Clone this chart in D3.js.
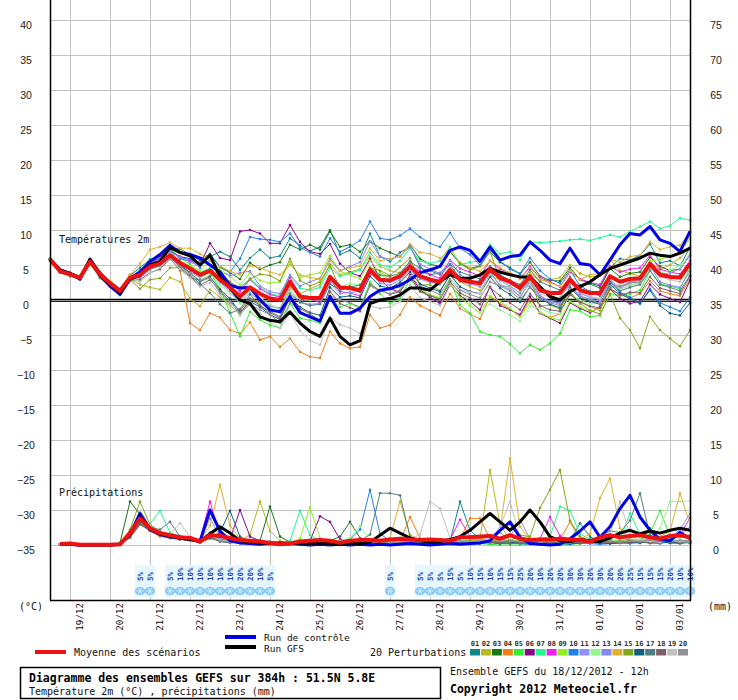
<!DOCTYPE html>
<html><head><meta charset="utf-8">
<script src="https://cdn.jsdelivr.net/npm/d3@7"></script>
<style>body{margin:0;background:#fff}svg{display:block}</style>
</head><body><svg id="c" width="738" height="700"></svg>
<script>
// ---------- DATA ----------
const dates = ["19/12","20/12","21/12","22/12","23/12","24/12","25/12","26/12","27/12","28/12","29/12","30/12","31/12","01/01","02/01","03/01"];
const dateIdx = [2,6,10,14,18,22,26,30,34,38,42,46,50,54,58,62];
const tickT = [40,35,30,25,20,15,10,5,0,-5,-10,-15,-20,-25,-30,-35];
const tickP = [75,70,65,60,55,50,45,40,35,30,25,20,15,10,5,0];
const pertNames = ["01","02","03","04","05","06","07","08","09","10","11","12","13","14","15","16","17","18","19","20"];
const pertColors = ["#108888","#b8b820","#187818","#f08018","#30f030","#880888","#20f890","#f020f0","#90f020","#2080f0","#9090f8","#90f890","#8888f0","#e0b030","#80a818","#106080","#508080","#806068","#c0c0c0","#909090"];

// Temperature 2m (°C), 65 steps of 6h from 18/12 12h
const tMean = [5.8,4.1,3.7,3.2,5.5,3.7,2.4,1.3,3.2,3.6,4.8,5.2,6.4,5.3,4.5,3.6,4.2,2.9,1.8,0.5,1.8,0.9,0.2,0.0,2.6,0.5,0.3,0.3,3.3,1.8,1.7,1.4,4.3,2.9,2.8,3.4,4.8,3.4,2.9,2.6,4.3,2.9,2.6,2.4,4.4,3.2,2.6,1.7,3.4,1.4,1.0,1.0,2.9,1.4,1.0,1.0,3.4,2.6,3.0,3.1,5.2,3.6,3.3,3.2,5.2];
const tCtrl = [5.8,4.3,3.8,3.0,5.8,3.5,2.0,0.8,3.0,4.0,5.5,6.5,7.8,6.8,6.5,6.0,5.0,4.0,2.1,1.7,1.8,0.0,-1.4,-1.7,0.5,-1.8,-2.4,-3.0,0.5,-1.9,-1.9,-1.2,0.5,1.4,1.6,2.1,2.9,3.9,4.3,4.8,7.1,7.6,7.1,5.5,7.6,5.7,6.2,6.4,8.3,7.1,5.7,5.2,7.4,5.2,5.0,3.6,5.7,7.9,9.5,9.3,10.5,8.6,8.1,6.9,9.8];
const tGfs = [5.8,4.3,3.8,3.2,5.8,3.8,2.3,1.0,3.0,3.5,5.0,5.5,7.5,6.8,6.3,5.0,6.4,3.3,1.7,0.0,-0.5,-2.4,-2.9,-3.1,-1.7,-3.3,-4.5,-5.2,-2.6,-5.2,-6.4,-5.8,-0.5,0.0,0.2,0.7,1.7,1.7,1.4,2.6,3.6,3.1,3.1,3.6,4.5,4.0,3.6,3.3,3.3,1.9,0.5,0.0,1.2,1.9,2.6,3.6,4.5,5.0,5.5,6.0,6.7,6.4,6.2,6.7,7.4];
const tP01 = [5.9,4.2,3.8,3.3,5.6,4.0,2.7,1.6,3.5,4.6,5.8,6.2,7.4,7.3,6.5,5.6,6.2,6.9,6.2,4.3,6.0,7.2,6.0,6.3,8.8,7.8,7.0,7.6,10.0,6.5,7.1,6.0,9.5,6.2,5.5,6.8,7.6,4.8,3.6,3.9,5.0,3.2,2.2,2.8,4.1,2.0,1.9,0.4,2.7,0.6,-0.4,0.3,2.2,2.1,2.3,1.7,4.6,5.9,5.7,6.4,8.0,5.3,5.6,4.9,7.5];
const tP02 = [5.7,4.0,3.5,2.9,5.3,3.4,2.1,0.9,3.0,2.2,1.8,1.5,3.2,2.6,0.2,-0.9,1.5,0.4,-0.8,-2.0,0.2,-0.4,-0.9,-1.2,1.8,0.9,1.6,2.2,5.1,3.6,4.0,4.4,6.2,4.8,4.2,3.9,5.5,3.6,2.8,2.2,3.9,2.6,1.9,1.4,3.4,2.9,2.6,2.0,3.9,2.7,2.9,3.2,5.0,3.8,3.3,3.5,5.8,4.2,3.8,3.4,5.4,4.4,5.0,6.0,7.6];
const tP03 = [5.9,4.3,3.8,3.4,5.7,3.9,2.6,1.5,3.4,3.8,5.2,6.0,7.7,6.8,6.4,5.9,6.5,4.7,3.9,3.0,5.3,4.4,5.0,5.4,7.9,7.2,7.9,7.2,9.8,7.6,7.9,6.9,8.4,7.4,6.8,6.2,7.9,5.9,5.1,4.8,6.9,5.2,4.5,4.9,6.9,5.4,4.6,3.7,5.4,3.4,2.8,2.7,4.6,2.9,2.4,2.0,4.5,3.3,3.8,4.0,6.1,4.8,4.2,4.4,6.4];
const tP04 = [5.8,4.3,3.9,3.4,5.9,3.9,2.6,1.5,3.6,3.3,4.5,5.6,7.8,4.2,-3.3,-4.3,-1.9,-2.5,-4.3,-4.8,-3.2,-5.7,-5.2,-6.7,-5.5,-7.4,-8.1,-8.3,-4.5,-6.2,-6.9,-6.7,-2.1,-4.0,-3.6,-2.1,0.4,-0.8,-1.5,-2.2,0.9,-1.2,-2.0,-2.7,0.5,-0.5,-1.3,-2.4,0.2,-1.8,-2.5,-2.0,0.9,-0.2,-0.9,-1.5,1.5,0.8,0.3,0.9,2.7,1.3,0.9,0.6,2.9];
const tP05 = [5.8,4.0,3.5,2.9,5.4,3.5,2.1,1.0,3.4,3.9,5.7,6.4,7.5,6.0,5.1,3.2,3.9,1.6,-1.8,-5.2,-1.7,-2.8,-3.6,-4.0,-0.5,-2.6,-2.9,-3.3,0.2,-1.0,-0.5,-1.2,2.6,0.9,-0.5,0.2,3.0,1.4,0.6,0.3,2.8,-0.7,-1.9,-4.5,-5.0,-5.2,-6.3,-7.6,-6.4,-7.1,-6.2,-4.8,-1.4,-1.6,-2.4,-2.2,0.9,0.6,0.9,1.4,4.2,2.3,2.0,1.6,4.6];
const tP06 = [5.9,4.4,3.9,3.3,5.7,3.6,2.2,1.1,3.3,4.0,5.6,6.3,7.0,6.2,5.9,5.0,8.1,6.0,5.7,9.8,10.0,9.5,8.1,8.1,10.7,8.3,6.9,6.6,8.0,5.2,3.9,3.4,5.9,3.0,1.6,1.1,3.6,1.5,0.4,-0.5,2.2,0.6,-0.2,-1.4,1.9,-0.8,-1.4,-2.1,0.5,-1.9,-2.6,-3.3,-0.4,-1.2,-1.8,-1.0,1.6,0.2,-0.5,-0.2,2.2,0.8,0.2,-0.3,2.8];
const tP07 = [5.8,4.2,3.7,3.3,5.6,3.8,2.5,1.4,3.1,3.4,4.6,5.4,6.8,5.6,4.8,3.9,4.6,3.6,2.4,1.3,3.1,1.8,0.9,0.6,3.4,1.7,1.4,1.8,4.6,3.4,3.8,4.3,6.8,5.0,4.7,5.6,7.4,5.6,5.2,5.6,7.6,5.0,5.4,5.6,7.9,6.6,6.9,5.7,8.3,8.2,8.3,8.4,8.6,8.7,8.5,8.9,9.3,9.0,9.8,10.5,11.2,10.2,10.6,11.7,11.4];
const tP08 = [5.8,4.2,3.8,3.2,5.5,3.8,2.4,1.4,3.3,3.9,5.2,5.9,7.2,5.9,5.6,5.2,6.4,3.8,2.6,1.2,2.9,1.6,0.8,0.4,3.2,0.7,0.2,-0.4,2.8,1.2,1.0,0.6,3.8,2.9,2.6,3.3,5.1,4.1,3.6,3.1,5.7,4.5,4.0,3.4,5.6,4.4,3.9,3.0,4.8,3.2,2.6,1.9,4.0,3.0,2.5,2.2,4.8,4.0,4.4,4.6,6.4,4.4,4.0,3.7,5.6];
const tP09 = [5.9,4.3,3.9,3.4,5.7,3.8,2.5,1.4,3.5,3.6,5.0,5.5,6.6,5.5,4.9,4.2,5.6,4.4,3.4,2.2,3.9,2.8,2.4,2.6,5.4,3.2,3.6,3.9,6.3,4.1,3.6,3.0,5.6,4.0,3.1,1.8,2.9,1.6,0.8,0.3,2.4,0.4,-0.8,-1.9,0.6,-0.2,-1.2,-2.4,-0.4,-1.8,-2.5,-2.9,-0.2,-1.0,-1.6,-1.2,1.8,1.8,2.4,3.0,5.6,5.8,6.3,6.9,8.8];
const tP10 = [5.8,4.1,3.7,3.1,5.4,3.6,2.2,1.2,3.3,4.2,5.5,6.0,7.2,6.0,5.8,4.6,6.6,4.8,4.0,5.9,9.0,8.7,8.6,8.3,9.5,7.5,6.8,6.2,8.8,6.9,7.6,8.5,11.2,8.8,8.6,9.2,10.2,9.0,8.1,7.6,9.6,7.4,6.5,5.0,7.2,5.6,4.4,3.8,6.0,4.2,3.0,2.4,4.3,2.0,1.2,0.6,2.8,1.1,0.4,-0.5,1.6,-0.4,-1.0,-1.6,0.4];
const tP11 = [5.7,4.0,3.6,3.1,5.4,3.5,2.2,1.1,3.1,3.2,4.4,4.9,6.0,4.8,4.0,3.2,4.0,2.5,1.2,-0.3,1.0,-0.1,-0.8,-1.2,1.4,-0.4,-0.6,-0.5,2.4,0.9,1.1,1.2,3.9,2.4,2.1,2.9,4.2,3.0,2.5,2.3,4.6,2.7,2.3,1.9,3.8,2.2,1.5,0.6,2.4,0.4,-0.2,-0.4,1.8,0.6,0.1,-0.1,2.5,1.8,2.4,2.9,5.0,3.6,3.9,4.4,6.3];
const tP12 = [5.8,4.1,3.6,3.1,5.5,3.6,2.3,1.3,3.3,3.7,4.8,5.3,6.6,5.2,4.3,3.4,3.8,2.2,1.0,-0.5,1.4,0.3,-0.6,-1.4,1.2,0.2,0.0,0.3,3.0,1.9,2.3,2.2,4.4,3.5,3.0,3.3,4.8,3.6,3.2,2.4,4.2,1.2,-0.4,-1.8,-0.6,-1.4,-2.2,-3.0,-0.9,-1.2,-1.8,-2.0,0.7,0.0,-0.6,-0.4,2.1,1.5,2.0,2.4,4.4,3.8,4.3,4.9,6.7];
const tP13 = [5.8,4.2,3.7,3.2,5.5,3.7,2.4,1.2,3.2,3.7,4.9,5.5,6.9,6.1,5.4,4.9,5.7,4.0,3.5,3.9,4.1,2.0,1.2,0.9,3.6,2.0,2.6,3.1,5.9,4.2,4.8,5.4,8.4,6.2,5.8,6.3,7.6,5.1,4.4,3.8,5.6,3.6,2.9,2.2,4.2,2.8,2.0,1.0,2.8,0.6,-0.2,-0.6,1.6,0.9,0.4,0.0,2.8,1.8,2.6,2.4,4.9,2.6,2.1,1.8,4.1];
const tP14 = [5.9,4.3,3.8,3.3,5.7,3.9,2.7,1.6,3.6,5.2,7.2,7.6,8.2,7.4,7.4,6.6,5.8,4.8,4.1,3.6,4.9,4.6,4.0,3.6,5.0,3.6,3.2,3.0,5.6,4.2,4.6,4.9,7.4,5.6,5.9,6.2,8.0,6.8,6.6,6.0,7.2,5.4,4.6,4.1,5.6,4.6,3.8,3.0,4.6,3.0,2.4,2.0,4.2,2.9,3.6,3.8,5.8,5.4,6.2,6.4,8.3,7.2,7.6,7.8,9.7];
const tP15 = [5.7,4.0,3.6,3.0,5.2,3.1,2.0,0.7,2.9,1.6,2.9,3.1,4.6,4.6,3.2,2.8,3.5,4.1,2.5,1.8,3.0,3.7,3.5,2.7,5.9,2.8,2.0,2.6,5.0,1.5,2.0,1.1,4.6,4.2,3.5,4.7,6.0,2.1,2.2,1.3,3.6,5.2,4.3,4.8,6.9,3.0,2.9,1.4,3.1,-0.9,-0.7,-1.3,1.2,-0.5,-1.5,-2.0,0.8,-2.6,-4.3,-6.9,-2.4,-4.3,-5.5,-6.6,-4.3];
const tP16 = [5.8,4.1,3.6,3.2,5.4,3.4,2.1,0.9,3.0,3.5,4.6,5.0,6.2,5.0,3.9,2.6,3.3,1.5,0.2,-1.8,-0.2,-1.0,-2.1,-2.8,0.4,-1.0,-1.8,-2.2,1.8,0.4,0.6,0.3,3.4,2.0,1.7,2.5,4.0,2.3,1.7,1.2,3.6,1.9,1.2,0.9,3.3,1.7,0.8,-0.3,1.9,0.2,-0.6,-1.1,1.7,0.3,-0.2,-0.6,2.3,0.9,0.2,-0.5,1.4,-0.8,-1.9,-2.2,-0.4];
const tP17 = [5.8,4.1,3.7,3.2,5.6,3.6,2.3,1.2,3.2,3.4,4.4,4.9,6.3,4.6,3.6,2.3,1.0,-0.6,-1.9,-1.3,0.8,-0.8,-1.6,-2.4,0.9,-0.3,-0.8,-0.6,2.3,1.4,1.9,2.1,4.6,3.6,3.4,3.8,5.5,4.5,4.2,3.6,5.1,4.0,3.5,3.0,4.8,3.6,2.8,2.2,4.3,2.6,2.0,1.4,3.3,1.6,1.1,0.6,2.6,1.3,1.8,2.2,4.2,2.2,1.8,1.3,3.5];
const tP18 = [5.6,3.9,3.4,2.9,5.2,3.3,2.0,0.8,2.8,2.9,3.9,4.4,5.9,4.3,3.4,2.1,2.9,1.3,-0.2,-1.5,0.2,-0.8,-1.8,-2.6,0.6,-1.2,-2.0,-2.9,1.2,-0.5,-1.1,-1.6,2.2,1.4,0.8,1.2,3.3,1.2,0.6,0.1,2.6,1.0,0.3,-0.6,1.8,0.6,-0.4,-1.4,0.9,-0.8,-1.4,-1.6,0.8,-0.3,-0.9,-1.1,1.7,0.7,1.1,1.0,3.3,1.7,1.3,0.9,3.4];
const tP19 = [5.7,4.0,3.6,3.1,5.3,3.5,2.3,1.2,3.0,2.6,3.8,4.6,6.0,4.4,3.2,1.9,2.5,0.6,-0.6,-2.2,-0.4,-1.9,-3.2,-4.0,-1.8,-4.4,-5.8,-6.4,-2.4,-3.5,-4.0,-4.8,-0.9,-1.2,-1.0,-0.2,2.2,0.3,-0.2,-0.8,2.0,1.5,1.1,0.9,3.7,2.2,1.8,0.6,2.5,0.9,0.4,0.2,2.4,1.2,0.5,0.2,3.0,1.6,2.2,2.5,4.7,3.3,2.9,2.6,4.9];
const tP20 = [5.7,4.0,3.6,3.0,5.4,3.5,2.1,1.0,3.0,3.3,4.5,5.0,6.1,4.8,3.8,2.8,3.1,1.0,-0.3,-1.9,-0.6,-1.4,-2.1,-3.3,-0.4,-1.6,-2.4,-2.9,0.6,0.0,-0.4,-1.0,2.0,1.3,0.9,1.4,3.4,2.0,1.4,0.8,3.0,1.4,0.8,0.3,2.6,2.0,1.3,0.1,1.8,0.2,-0.4,-0.8,1.6,0.5,0.0,-0.5,2.0,2.0,2.5,2.6,4.6,3.9,3.5,3.1,5.2];

// Precipitation (mm per 6h), steps 1..64
const pMean = [0.15,0.2,0.05,0.05,0.05,0.05,0.1,1.7, 3.8,2.4,1.7,1.4,1.1,1.0,0.5,1.4, 1.3,1.0,0.7,0.6,0.5,0.3,0.1,0.2, 0.5,0.6,0.7,0.6,0.3,0.6,0.7,0.7, 0.6,0.8,0.9,0.8,0.7,0.8,0.7,0.6, 1.1,1.1,1.2,1.3,0.9,1.4,0.9,0.7, 0.8,0.8,0.9,0.8,0.7,0.5,1.1,1.4, 1.1,1.3,1.4,1.1,0.9,1.3,1.4,1.1];
const pCtrl = [0.1,0.1,0,0,0,0,0.1,1.5, 4.5,2.2,1.5,1.2,1.0,0.8,0.5,5.0, 2.0,0.6,0.3,0.2,0.1,0.2,0.1,0.2, 0.1,0.0,0.1,0.0,0.1,0.0,0.1,0.0, 0.1,0.0,0.1,0.2,0.1,0.0,0.1,0.2, 0.1,0.2,0.3,0.6,2.1,3.3,1.1,0.2, 0.1,0.0,0.1,0.9,2.0,3.3,1.1,2.6, 5.2,7.1,4.0,2.1,0.8,0.6,1.8,0.9];
const pGfs = [0.1,0.1,0,0,0,0,0.1,1.6, 4.0,2.4,1.6,1.3,1.0,0.8,0.5,1.6, 2.6,1.7,0.6,0.4,0.3,0.2,0.3,0.2, 0.3,0.2,0.3,0.2,0.1,0.3,0.2,0.4, 1.4,2.4,1.7,1.0,0.6,0.4,0.5,0.8, 1.2,2.1,3.3,4.5,3.3,2.1,3.3,5.0, 3.3,1.2,0.6,0.5,0.8,0.6,0.5,1.0, 1.7,2.1,1.6,2.0,1.7,2.1,2.4,2.1];
const pP01 = [0.1,0.1,0,0,0,0,0.2,1.5, 3.9,2.6,1.6,1.2,1.0,0.8,0.4,1.2, 0.6,0.4,0.3,0.2,0.1,0.2,0.4,0.1, 0.1,0.2,0.5,0.4,0.2,0.6,0.3,0.4, 0.2,0.3,0.5,0.6,0.3,0.2,0.4,0.5, 6.2,2.1,0.8,0.6,0.3,0.2,0.4,0.6, 0.8,0.5,0.4,0.6,3.1,1.2,0.4,0.3, 0.5,0.6,0.4,0.8,0.5,0.3,0.2,0.4];
const pP02 = [0.1,0.1,0,0,0,0,0.1,2.0, 4.6,2.9,2.0,1.5,0.9,0.7,0.3,1.0, 0.8,0.5,0.6,1.5,6.2,2.0,0.6,0.3, 0.2,0.4,0.3,0.2,0.1,0.3,0.4,0.5, 0.2,0.4,0.3,0.5,0.6,0.4,0.8,0.6, 0.5,0.7,0.9,10.7,3.0,0.6,0.5,0.4, 0.3,0.5,0.6,0.4,0.2,0.3,0.4,0.8, 0.5,0.4,0.6,0.3,0.5,0.7,0.5,0.3];
const pP03 = [0.1,0.1,0,0,0,0,0.3,6.2, 4.4,2.1,1.8,1.3,1.0,0.9,0.6,1.6, 0.9,0.6,0.4,0.3,0.6,5.5,1.2,0.4, 0.2,0.3,0.4,0.6,1.2,3.3,1.0,0.6, 0.4,0.3,0.2,0.5,0.4,0.3,0.6,0.4, 0.3,0.5,0.6,0.4,0.3,0.5,0.4,0.6, 0.5,0.4,0.3,0.5,0.6,0.4,0.5,0.3, 0.6,0.8,0.5,2.4,0.6,0.4,0.5,0.3];
const pP04 = [0.1,0.1,0,0,0,0,0.1,1.0, 2.9,2.0,1.2,1.0,0.8,0.6,0.4,0.9, 0.6,0.4,0.3,0.2,0.2,0.1,0.2,0.1, 0.1,0.1,0.0,0.1,0.2,0.1,0.2,0.3, 0.4,0.6,0.5,4.0,1.0,0.4,0.5,0.6, 0.8,3.8,3.8,0.9,0.4,0.5,0.6,0.4, 0.6,0.5,0.8,3.3,0.9,0.5,0.4,0.6, 0.5,0.4,0.3,0.6,0.5,0.4,0.6,0.3];
const pP05 = [0.1,0.1,0,0,0,0,0.2,1.8, 3.6,2.2,1.6,1.5,1.1,1.0,0.5,1.3, 0.7,0.4,0.3,0.2,0.3,0.2,0.1,0.2, 0.1,0.2,0.3,0.2,0.1,0.2,0.1,0.2, 0.3,0.2,0.4,0.3,0.2,0.1,0.2,0.3, 0.2,0.1,0.2,0.1,0.0,0.0,0.0,0.1, 0.0,0.1,0.0,0.1,0.2,0.3,0.2,0.4, 0.6,0.5,0.8,1.6,4.9,1.3,1.1,1.4];
const pP06 = [0.1,0.1,0,0,0,0,0.1,1.4, 3.4,2.7,1.9,1.4,1.2,1.0,0.5,1.1, 0.6,0.8,5.0,1.2,0.6,0.4,0.3,0.5, 0.3,0.6,4.1,3.3,0.8,0.5,0.4,0.3, 0.4,0.3,0.2,0.3,0.5,0.4,0.3,0.2, 0.3,0.4,0.2,0.3,0.5,0.4,0.3,0.2, 0.4,0.3,0.5,0.2,0.3,0.4,0.3,0.5, 0.4,0.6,0.5,0.3,0.4,0.5,0.3,0.6];
const pP07 = [0.1,0.1,0,0,0,0,0.2,1.6, 3.2,3.0,4.9,1.8,1.2,0.9,0.6,1.4, 0.6,0.5,0.4,0.3,0.2,0.4,0.3,0.6, 4.9,1.4,0.6,0.4,0.3,0.5,0.4,0.3, 0.5,0.4,0.3,0.6,0.4,0.5,0.3,0.4, 0.6,0.5,0.8,0.6,0.4,0.5,0.6,0.8, 0.9,1.2,5.5,4.9,1.6,0.8,0.6,0.5, 0.8,4.5,1.5,0.6,0.8,0.5,0.6,0.4];
const pP08 = [0.1,0.1,0,0,0,0,0.1,1.2, 3.5,2.3,1.5,1.2,1.0,0.9,0.8,6.2, 1.4,0.6,0.4,0.3,0.5,0.4,0.2,0.3, 0.2,0.4,0.3,0.2,0.4,0.3,0.2,0.4, 0.5,0.3,0.4,0.6,0.5,0.4,0.5,0.8, 3.6,1.2,0.5,0.4,0.6,0.4,0.5,0.6, 0.9,4.0,1.3,0.5,0.4,0.6,0.5,0.4, 0.6,0.5,0.7,0.4,0.6,0.8,1.4,3.9];
const pP09 = [0.1,0.1,0,0,0,0,0.2,1.8, 4.2,2.5,1.4,1.1,0.9,0.8,0.5,1.3, 0.5,0.4,0.3,0.4,0.3,0.2,0.4,0.3, 0.9,5.4,1.0,0.5,0.3,0.4,0.6,0.4, 0.3,0.5,0.4,0.3,0.5,0.4,0.6,0.3, 0.4,0.5,0.6,0.4,0.3,0.4,0.5,0.3, 0.4,0.5,0.3,0.6,0.4,0.5,0.3,0.6, 0.5,0.4,0.6,0.8,1.0,0.6,0.5,0.7];
const pP10 = [0.1,0.1,0,0,0,0,0.1,1.4, 3.3,2.2,1.6,1.3,1.0,0.8,0.4,1.2, 0.5,0.3,0.4,0.2,0.3,0.4,0.2,0.3, 0.4,0.3,0.5,0.4,0.6,0.8,2.2,7.9, 1.6,0.6,0.4,0.3,0.2,0.4,0.3,0.2, 0.3,0.2,0.4,0.3,0.2,0.3,0.2,0.1, 0.2,0.3,0.2,0.1,0.3,0.2,0.1,0.2, 0.3,0.2,0.4,0.3,0.2,0.5,0.3,0.4];
const pP11 = [0.1,0.1,0,0,0,0,0.1,1.3, 3.7,2.4,1.8,1.4,1.2,1.0,0.6,3.8, 1.2,0.5,0.3,0.4,0.3,0.2,0.3,0.2, 0.3,0.2,0.4,0.3,0.2,0.4,0.3,0.2, 0.4,0.3,0.5,0.4,0.3,0.5,0.4,0.3, 0.5,0.4,0.6,0.5,0.8,1.2,3.6,0.9, 0.5,0.4,0.6,0.4,0.5,0.3,0.4,0.5, 0.6,0.4,0.8,0.6,0.7,1.0,2.2,4.5];
const pP12 = [0.1,0.1,0,0,0,0,0.2,1.5, 3.8,2.6,1.7,1.3,1.1,0.9,0.5,1.5, 0.7,0.5,0.4,0.3,0.4,0.3,0.2,0.4, 0.3,0.4,0.3,0.5,0.6,1.0,2.7,0.8, 0.4,0.3,0.5,0.4,0.3,0.4,0.3,0.5, 0.4,0.3,0.2,0.3,0.4,0.3,0.4,0.5, 0.6,0.4,0.5,0.7,0.5,0.4,0.6,0.5, 0.7,0.6,0.8,1.0,2.4,6.2,6.2,6.3];
const pP13 = [0.1,0.1,0,0,0,0,0.1,1.6, 4.4,2.8,1.9,1.5,1.3,1.1,0.5,1.8, 0.8,0.6,0.5,0.4,0.3,0.5,0.4,0.3, 0.4,0.3,0.6,0.4,0.5,0.6,0.4,0.3, 0.5,0.4,0.6,0.5,0.4,0.6,0.5,0.4, 0.6,0.5,0.4,0.6,0.8,0.6,0.4,0.5, 0.6,0.5,0.4,0.3,0.5,0.4,0.6,0.5, 0.4,0.6,0.5,0.8,1.0,0.8,1.3,2.6];
const pP14 = [0.1,0.1,0,0,0,0,0.2,1.3, 3.6,2.4,1.5,1.2,1.0,0.8,0.6,2.8, 8.6,2.8,0.9,0.6,0.4,0.5,0.3,0.4, 0.3,0.4,0.6,0.4,0.3,0.5,0.4,0.3, 0.6,1.0,6.2,1.5,0.6,0.4,0.5,0.3, 0.4,0.6,0.8,1.4,2.0,12.4,2.6,0.8, 0.5,0.6,0.4,0.5,0.8,1.6,6.7,9.5, 2.4,0.8,0.6,0.5,1.2,2.0,7.4,3.0];
const pP15 = [0.1,0.1,0,0,0,0,0.2,2.2, 6.2,2.9,1.9,1.4,1.2,0.9,0.5,1.4, 0.6,0.5,0.3,0.4,0.5,0.3,0.4,0.2, 0.3,0.4,0.3,0.5,0.4,0.3,0.5,0.4, 0.3,0.4,0.5,0.3,0.4,0.6,0.5,0.4, 0.5,0.6,0.4,0.5,0.8,0.6,1.4,1.2, 5.3,7.9,10.7,3.5,1.2,0.6,0.5,0.4, 0.6,0.5,0.4,0.3,0.5,0.4,0.6,0.5];
const pP16 = [0.1,0.1,0,0,0,0,0.1,1.1, 3.0,2.1,1.4,1.0,0.8,0.7,0.4,1.0, 1.8,4.9,1.2,0.5,0.3,0.4,0.2,0.3, 0.2,0.3,0.4,0.2,0.3,0.2,0.4,0.3, 0.2,0.3,0.4,0.3,0.2,0.3,0.2,0.4, 0.3,0.2,0.3,0.4,0.2,0.3,0.4,0.3, 0.2,0.3,0.4,0.2,0.3,0.4,0.3,0.2, 0.3,0.4,0.3,0.5,0.4,0.3,0.4,0.3];
const pP17 = [0.1,0.1,0,0,0,0,0.1,1.4, 3.4,2.5,2.2,3.3,1.2,1.0,0.5,1.2, 0.6,0.4,0.3,0.4,0.3,0.5,0.3,0.2, 0.3,0.2,0.4,0.3,0.5,0.4,0.6,1.5, 7.4,7.4,7.1,1.2,0.5,0.4,0.3,0.5, 0.4,0.3,0.5,0.4,0.3,0.5,0.4,0.3, 0.5,0.4,0.6,0.5,0.4,0.8,1.2,2.0, 1.8,3.5,7.4,1.4,0.6,0.5,0.4,0.6];
const pP18 = [0.1,0.1,0,0,0,0,0.1,1.2, 3.1,2.3,1.6,1.2,1.0,0.8,0.4,1.1, 0.5,0.4,0.3,0.2,0.3,0.2,0.1,0.2, 0.1,0.2,0.3,0.2,0.1,0.2,0.3,0.2, 0.3,0.2,0.4,0.3,0.2,0.3,0.4,0.3, 0.2,0.3,0.2,0.4,0.3,0.2,0.3,0.2, 0.4,0.3,0.2,0.3,0.4,0.3,0.5,0.4, 0.3,0.4,0.5,0.3,0.4,0.6,0.4,0.5];
const pP19 = [0.1,0.1,0,0,0,0,0.2,1.7, 4.9,2.8,1.9,1.6,3.1,1.2,0.6,1.4, 0.7,0.5,0.4,0.3,0.4,0.3,0.2,0.4, 0.3,0.4,0.3,0.4,0.5,0.3,0.4,0.5, 0.6,0.4,0.5,0.8,1.5,6.2,5.2,1.0, 0.5,0.4,0.6,0.8,2.6,6.2,1.0,0.5, 0.4,0.6,0.5,0.4,0.6,0.5,0.8,1.6, 6.2,1.4,0.6,0.5,0.4,0.6,0.5,0.4];
const pP20 = [0.1,0.1,0,0,0,0,0.1,1.5, 4.0,2.4,1.7,1.3,1.1,0.9,0.5,1.3, 0.6,0.4,0.5,0.3,0.4,0.5,0.3,0.4, 0.3,0.4,0.5,0.3,0.4,0.3,0.5,0.4, 0.3,0.5,0.4,0.6,0.4,0.5,0.3,0.4, 0.5,0.4,0.6,0.5,1.8,0.6,0.5,0.4, 0.6,0.5,0.4,0.6,0.5,0.4,0.6,0.5, 0.4,0.6,0.5,0.8,0.6,0.5,0.7,0.6];

// Snow probability (%) at 6h steps
const snowIdx = [9,10,12,13,14,15,16,17,18,19,20,21,22,34,37,38,39,40,41,42,43,44,45,46,47,48,49,50,51,52,53,54,55,56,57,58,59,60,61,62,63,64];
const snowPct = [5,5,5,10,10,10,10,10,10,20,20,10,5,5,5,5,5,15,5,10,15,10,15,15,25,20,10,20,20,30,30,20,30,20,20,25,15,15,15,20,10,10];

const tPert = [tP01,tP02,tP03,tP04,tP05,tP06,tP07,tP08,tP09,tP10,tP11,tP12,tP13,tP14,tP15,tP16,tP17,tP18,tP19,tP20];
const pPert = [pP01,pP02,pP03,pP04,pP05,pP06,pP07,pP08,pP09,pP10,pP11,pP12,pP13,pP14,pP15,pP16,pP17,pP18,pP19,pP20];

// ---------- DRAW ----------
const svg = d3.select('#c');
const MONO = "'DejaVu Sans Mono', 'Liberation Mono', monospace";
const SANS = "'Liberation Sans', Arial, sans-serif";
const x = d3.scaleLinear().domain([0,64]).range([50,690]);
const yT = d3.scaleLinear().domain([-35,40]).range([545,20]);
const yP = d3.scaleLinear().domain([0,75]).range([545,20]);

// grid
const grid = svg.append('g');
grid.selectAll('line.h').data(tickT).join('line')
  .attr('x1',50).attr('x2',690).attr('y1',d=>Math.round(yT(d))+0.5).attr('y2',d=>Math.round(yT(d))+0.5)
  .attr('stroke','#c4c4c4').attr('stroke-width',1);
grid.selectAll('line.v').data(dateIdx).join('line')
  .attr('x1',d=>Math.round(x(d))+0.5).attr('x2',d=>Math.round(x(d))+0.5).attr('y1',0).attr('y2',600)
  .attr('stroke','#c4c4c4').attr('stroke-width',1);

// zero line
svg.append('line').attr('x1',50).attr('x2',690).attr('y1',yT(0)-0.5).attr('y2',yT(0)-0.5).attr('stroke','#000').attr('stroke-width',1.4);
svg.append('line').attr('x1',50).attr('x2',690).attr('y1',yT(0)+1.5).attr('y2',yT(0)+1.5).attr('stroke','#222').attr('stroke-width',1);

// snow flakes
const snow = svg.append('g');
snow.selectAll('rect').data(snowIdx).join('rect')
  .attr('x',d=>x(d)-5).attr('y',565).attr('width',10).attr('height',32).attr('fill','#e6f7fd');
const flakes = snow.selectAll('g.f').data(snowIdx).join('g').attr('class','f')
  .attr('transform',d=>`translate(${x(d)},591)`);
flakes.append('ellipse').attr('rx',5.2).attr('ry',4.2).attr('fill','#8ccaee');
[0,60,120].forEach(a=>{
  flakes.append('line').attr('x1',-3.6).attr('x2',3.6).attr('y1',0).attr('y2',0)
    .attr('transform',`rotate(${a})`).attr('stroke','#d4eeff').attr('stroke-width',0.8);
});
snow.selectAll('text').data(snowIdx).join('text')
  .attr('transform',d=>`translate(${x(d)+3},581) rotate(-90)`)
  .attr('font-family',MONO).attr('font-size',7.5).attr('font-weight','bold').attr('fill','#2040b8')
  .text((d,k)=>snowPct[k]+'%');

// lines
const lineT = d3.line().x((d,i)=>x(i)).y(d=>yT(d));
const lineP = d3.line().x((d,i)=>x(i+1)).y(d=>yP(d));
const series = svg.append('g');
tPert.forEach((s,k)=>{
  series.append('path').attr('d',lineT(s)).attr('fill','none').attr('stroke',pertColors[k]).attr('stroke-width',1);
  series.append('g').selectAll('circle').data(s).join('circle')
    .attr('cx',(d,i)=>x(i)).attr('cy',d=>yT(d)).attr('r',1.3).attr('fill',pertColors[k]);
});
pPert.forEach((s,k)=>{
  series.append('path').attr('d',lineP(s)).attr('fill','none').attr('stroke',pertColors[k]).attr('stroke-width',1);
  series.append('g').selectAll('circle').data(s).join('circle')
    .attr('cx',(d,i)=>x(i+1)).attr('cy',d=>yP(d)).attr('r',1.3).attr('fill',pertColors[k]);
});
const main = [
  [tCtrl,pCtrl,'#0000e6',3],
  [tGfs,pGfs,'#000000',3],
  [tMean,pMean,'#ee1111',4]
];
main.forEach(([t,p,c,w])=>{
  series.append('path').attr('d',lineT(t)).attr('fill','none').attr('stroke',c).attr('stroke-width',w).attr('stroke-linejoin','round');
  series.append('path').attr('d',lineP(p)).attr('fill','none').attr('stroke',c).attr('stroke-width',w).attr('stroke-linejoin','round');
});

// frame
svg.append('line').attr('x1',50.5).attr('x2',50.5).attr('y1',0).attr('y2',600.5).attr('stroke','#000').attr('stroke-width',1.5);
svg.append('line').attr('x1',690.5).attr('x2',690.5).attr('y1',0).attr('y2',600.5).attr('stroke','#000').attr('stroke-width',1.5);
svg.append('line').attr('x1',50).attr('x2',691).attr('y1',600.5).attr('y2',600.5).attr('stroke','#000').attr('stroke-width',1.5);

// axes
const axL = svg.append('g').attr('transform','translate(50,0)')
  .call(d3.axisLeft(yT).tickValues(tickT).tickSize(0).tickFormat(d3.format('d')));
axL.select('.domain').remove();
axL.selectAll('text').attr('x',-24).attr('dy',8).attr('text-anchor','middle')
  .attr('font-family',SANS).attr('font-size',10.5).attr('fill','#222');
const axR = svg.append('g').attr('transform','translate(690,0)')
  .call(d3.axisRight(yP).tickValues(tickP).tickSize(0).tickFormat(d3.format('d')));
axR.select('.domain').remove();
axR.selectAll('text').attr('x',26).attr('dy',8).attr('text-anchor','middle')
  .attr('font-family',SANS).attr('font-size',10.5).attr('fill','#222');
const axB = svg.append('g').attr('transform','translate(0,0)')
  .call(d3.axisBottom(x).tickValues(dateIdx).tickSize(0).tickFormat((d,k)=>dates[k]));
axB.select('.domain').remove();
axB.selectAll('text').attr('x',null).attr('y',null).attr('dy',null)
  .attr('transform','translate(12,603) rotate(-90)').attr('text-anchor','end')
  .attr('font-family',MONO).attr('font-size',9.2).attr('fill','#111');

// labels
function txt(s,xx,yy,opt={}){
  return svg.append('text').attr('x',xx).attr('y',yy).text(s)
    .attr('font-family',opt.ff||MONO).attr('font-size',opt.fs||10)
    .attr('font-weight',opt.fw||'normal').attr('fill',opt.fill||'#111')
    .attr('text-anchor',opt.ta||'start');
}
txt('Températures 2m',59,243);
txt('Précipitations',59,496);
txt('(°C)',19,610);
txt('(mm)',708,610);

// legend
svg.append('line').attr('x1',35).attr('x2',66).attr('y1',652).attr('y2',652).attr('stroke','#ee1111').attr('stroke-width',4);
txt('Moyenne des scénarios',74,656);
svg.append('line').attr('x1',225).attr('x2',256).attr('y1',637).attr('y2',637).attr('stroke','#0000e6').attr('stroke-width',4);
txt('Run de contrôle',264,640.5,{fs:9.5});
svg.append('line').attr('x1',225).attr('x2',256).attr('y1',647).attr('y2',647).attr('stroke','#000').attr('stroke-width',4);
txt('Run GFS',264,652,{fs:9.5});
txt('20 Perturbations',370,656);
const sw = svg.append('g');
sw.selectAll('rect').data(pertColors).join('rect')
  .attr('x',(d,k)=>470+k*10.95).attr('y',649).attr('width',10).attr('height',6.5).attr('fill',d=>d);
sw.selectAll('text').data(pertNames).join('text')
  .attr('x',(d,k)=>475+k*10.95).attr('y',645.5).attr('text-anchor','middle')
  .attr('font-family',MONO).attr('font-size',7).attr('font-weight','bold').attr('fill','#333')
  .text(d=>d);

// title box
svg.append('rect').attr('x',20.5).attr('y',667.5).attr('width',420).attr('height',31).attr('fill','none').attr('stroke','#000').attr('stroke-width',1.5);
txt('Diagramme des ensembles GEFS sur 384h : 51.5N 5.8E',29,682,{fw:'bold',fs:11.5,fill:'#000'});
txt('Température 2m (°C) , précipitations (mm)',29,695,{fs:10});
txt('Ensemble GEFS du 18/12/2012 - 12h',450,675,{fs:10});
txt('Copyright 2012 Meteociel.fr',450,693,{fw:'bold',fs:11.5,fill:'#000'});
</script>
</body></html>
